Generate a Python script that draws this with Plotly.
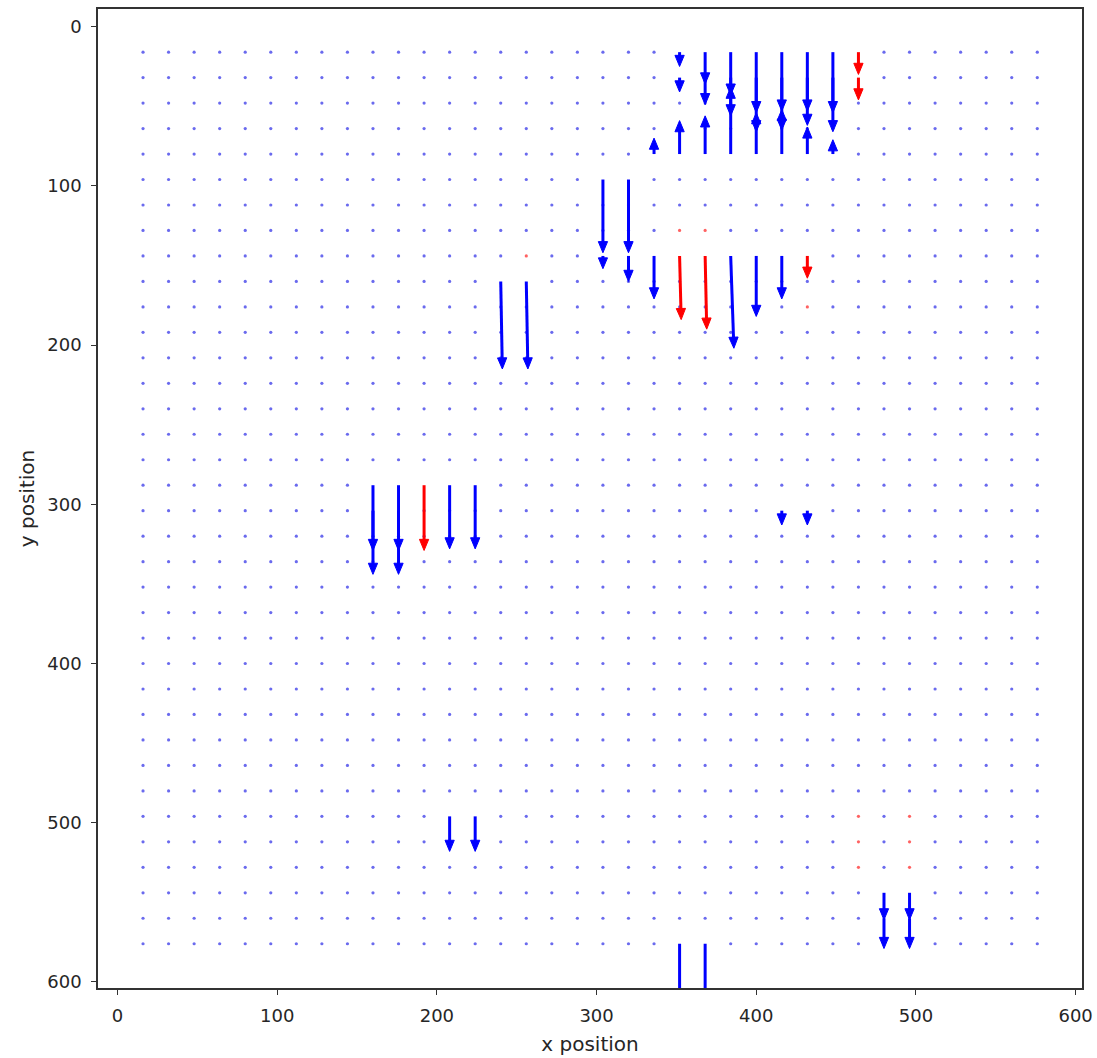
import plotly.graph_objects as go
import math

# ---- data ----
grid_positions = [16, 32, 48, 64, 80, 96, 112, 128, 144, 160, 176, 192, 208, 224, 240, 256, 272, 288,
                  304, 320, 336, 352, 368, 384, 400, 416, 432, 448, 464, 480, 496, 512, 528, 544, 560, 576]

# arrows: tail x, tail y, u, v (data units), colour
arrow_x = [336, 352, 352, 352, 368, 368, 368, 384, 384, 384, 400, 400, 400, 416, 416, 416,
           432, 432, 432, 448, 448, 448, 464, 464,
           304, 304, 320, 320, 336, 352, 368, 384, 400, 416, 432, 240, 256,
           160, 160, 176, 176, 192, 208, 224, 416, 432,
           208, 224, 480, 480, 496, 496, 352, 368]
arrow_y = [80, 16, 32, 80, 16, 32, 80, 16, 32, 80, 16, 32, 80, 16, 32, 80,
           16, 32, 80, 16, 32, 80, 16, 32,
           96, 144, 96, 144, 144, 144, 144, 144, 144, 144, 144, 160, 160,
           288, 304, 288, 304, 288, 288, 288, 304, 304,
           496, 496, 544, 560, 544, 560, 576, 576]
arrow_u = [0, 0, 0, 0, 0, 0, 0, 0, 0, 0, 0, 0, 0, 0, 0, 0,
           0, 0, 0, 0, 0, 0, 0, 0,
           0, 0, 0, 0, 0, 1, 1, 2, 0, 0, 0, 1, 1,
           0, 0, 0, 0, 0, 0, 0, 0, 0,
           0, 0, 0, 0, 0, 0, 0, 0]
arrow_v = [-10, 9, 9, -21, 20, 17, -24, 27, 24, -42, 38, 34, -26, 37, 33, -28,
           37, 30, -17, 38, 34, -9, 14, 14,
           46, 8, 46, 16, 27, 40, 46, 58, 38, 27, 14, 55, 55,
           41, 40, 41, 40, 41, 40, 40, 9, 9,
           22, 22, 17, 19, 17, 19, 60, 60]
arrow_color = ["b"] * 22 + ["r", "r"] + \
              ["b"] * 5 + ["r", "r"] + ["b"] * 3 + ["r"] + ["b", "b"] + \
              ["b", "b", "b", "b", "r", "b", "b", "b", "b"] + \
              ["b"] * 8

red_dot_x = [256, 352, 368, 432, 464, 464, 464, 496, 496, 496]
red_dot_y = [144, 128, 128, 176, 496, 512, 528, 496, 512, 528]

BLUE = "#0000ff"
RED = "#ff0000"

# ---- build arrow geometry (shaft + filled head) in data space ----
HEAD_LEN = 7.0
HEAD_W = 5.8

def build(colour_key):
    sx, sy, hx, hy = [], [], [], []
    for x, y, u, v, c in zip(arrow_x, arrow_y, arrow_u, arrow_v, arrow_color):
        if c != colour_key:
            continue
        L = math.hypot(u, v)
        dx, dy = u / L, v / L
        hl = min(HEAD_LEN, 0.85 * L)
        hw = HEAD_W * (hl / HEAD_LEN) ** 0.5
        tx, ty = x + u, y + v
        bx, by = tx - dx * hl, ty - dy * hl
        nx, ny = -dy, dx
        sx += [x, bx + dx * 0.5, None]
        sy += [y, by + dy * 0.5, None]
        hx += [tx, bx + nx * hw / 2, bx - nx * hw / 2, tx, None]
        hy += [ty, by + ny * hw / 2, by - ny * hw / 2, ty, None]
    return sx, sy, hx, hy

fig = go.Figure()

# zero-length vectors (dots)
occupied = set(zip(arrow_x, arrow_y)) | set(zip(red_dot_x, red_dot_y))
dot_x, dot_y = [], []
for gy in grid_positions:
    for gx in grid_positions:
        if (gx, gy) not in occupied:
            dot_x.append(gx)
            dot_y.append(gy)

fig.add_trace(go.Scatter(x=dot_x, y=dot_y, mode="markers",
                         marker=dict(size=3.2, color="rgba(80,80,235,0.85)", line=dict(width=0)),
                         hoverinfo="skip", showlegend=False))
fig.add_trace(go.Scatter(x=red_dot_x, y=red_dot_y, mode="markers",
                         marker=dict(size=3.2, color="rgba(255,70,70,0.85)", line=dict(width=0)),
                         hoverinfo="skip", showlegend=False))

for key, col in (("b", BLUE), ("r", RED)):
    sx, sy, hx, hy = build(key)
    fig.add_trace(go.Scatter(x=sx, y=sy, mode="lines", line=dict(color=col, width=3),
                             hoverinfo="skip", showlegend=False))
    fig.add_trace(go.Scatter(x=hx, y=hy, mode="lines", fill="toself", fillcolor=col,
                             line=dict(color=col, width=1), hoverinfo="skip", showlegend=False))

axis_common = dict(
    showgrid=False, zeroline=False, showline=True, mirror=True,
    linecolor="#333333", linewidth=1.6,
    ticks="outside", ticklen=5, tickwidth=1.3, tickcolor="#333333",
    tickfont=dict(family="DejaVu Sans", size=18, color="#262626"),
    ticklabelstandoff=6, automargin=False,
)

fig.update_layout(
    width=1097, height=1058,
    margin=dict(l=98, r=15, t=9, b=70),
    paper_bgcolor="white", plot_bgcolor="white",
    xaxis=dict(range=[-12.2, 604], tickvals=[0, 100, 200, 300, 400, 500, 600],
               title=dict(text="x position", font=dict(family="DejaVu Sans", size=20, color="#262626"),
                          standoff=12),
               **axis_common),
    yaxis=dict(range=[603.8, -11.1], tickvals=[0, 100, 200, 300, 400, 500, 600],
               title=dict(text="y position", font=dict(family="DejaVu Sans", size=20, color="#262626"),
                          standoff=7),
               **axis_common),
)

fig.write_html("out.html")
